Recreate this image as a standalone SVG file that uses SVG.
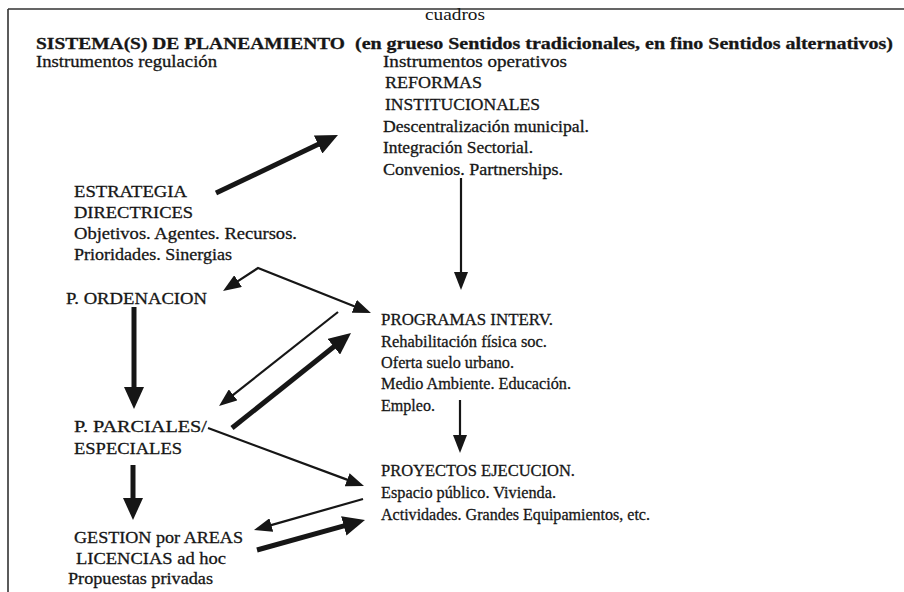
<svg xmlns="http://www.w3.org/2000/svg" width="904" height="592" viewBox="0 0 904 592">
<style>
text{fill:#161616;font-size:17px;font-family:"Liberation Serif","Times New Roman",serif;stroke:#161616;stroke-width:0.3}
.b{font-weight:bold}
.thin{stroke:#161616;stroke-width:2.2;fill:none}
.thick{stroke:#161616;stroke-width:5;fill:none}
</style>
<defs>
<marker id="ht" markerUnits="userSpaceOnUse" markerWidth="18" markerHeight="14" viewBox="0 0 18 14" refX="2" refY="7" orient="auto-start-reverse"><path d="M0,0 L18,7 L0,14 z" fill="#161616"/></marker>
<marker id="hk" markerUnits="userSpaceOnUse" markerWidth="22" markerHeight="20" viewBox="0 0 22 20" refX="2" refY="10" orient="auto"><path d="M0,0 L22,10 L0,20 z" fill="#161616"/></marker>
</defs>
<rect width="904" height="592" fill="#fff"/>
<g id="frame"><path d="M8,9 H904 M8,9 V592" stroke="#333" stroke-width="1.6" fill="none"/></g>
<g id="title">
<text x="425" y="20" textLength="60" lengthAdjust="spacingAndGlyphs" style="stroke-width:0">cuadros</text>
<text x="36" y="49" class="b" font-size="20" textLength="309" lengthAdjust="spacingAndGlyphs">SISTEMA(S) DE PLANEAMIENTO</text>
<text x="355" y="49" class="b" font-size="13" textLength="538" lengthAdjust="spacingAndGlyphs">(en grueso Sentidos tradicionales, en fino Sentidos alternativos)</text>
<text x="36" y="67" textLength="181" lengthAdjust="spacingAndGlyphs">Instrumentos regulación</text>
</g>
<g id="reformas">
<text x="383" y="67" textLength="184" lengthAdjust="spacingAndGlyphs">Instrumentos operativos</text>
<text x="385" y="88" textLength="97" lengthAdjust="spacingAndGlyphs">REFORMAS</text>
<text x="385" y="110" textLength="155" lengthAdjust="spacingAndGlyphs">INSTITUCIONALES</text>
<text x="383" y="132" textLength="206" lengthAdjust="spacingAndGlyphs">Descentralización municipal.</text>
<text x="383" y="153" textLength="150" lengthAdjust="spacingAndGlyphs">Integración Sectorial.</text>
<text x="383" y="175" textLength="180" lengthAdjust="spacingAndGlyphs">Convenios. Partnerships.</text>
</g>
<g id="estrategia">
<text x="74" y="197" textLength="113" lengthAdjust="spacingAndGlyphs">ESTRATEGIA</text>
<text x="74" y="218" textLength="119" lengthAdjust="spacingAndGlyphs">DIRECTRICES</text>
<text x="74" y="239" textLength="223" lengthAdjust="spacingAndGlyphs">Objetivos. Agentes. Recursos.</text>
<text x="74" y="260" textLength="158" lengthAdjust="spacingAndGlyphs">Prioridades. Sinergias</text>
</g>
<g id="ordenacion"><text x="66" y="304" textLength="141" lengthAdjust="spacingAndGlyphs">P. ORDENACION</text></g>
<g id="programas">
<text x="381" y="325" textLength="172" lengthAdjust="spacingAndGlyphs">PROGRAMAS INTERV.</text>
<text x="381" y="347" textLength="166" lengthAdjust="spacingAndGlyphs">Rehabilitación física soc.</text>
<text x="381" y="368" textLength="133" lengthAdjust="spacingAndGlyphs">Oferta suelo urbano.</text>
<text x="381" y="389" textLength="190" lengthAdjust="spacingAndGlyphs">Medio Ambiente. Educación.</text>
<text x="381" y="411" textLength="54" lengthAdjust="spacingAndGlyphs">Empleo.</text>
</g>
<g id="parciales">
<text x="74" y="432" textLength="133" lengthAdjust="spacingAndGlyphs">P. PARCIALES/</text>
<text x="74" y="454" textLength="108" lengthAdjust="spacingAndGlyphs">ESPECIALES</text>
</g>
<g id="proyectos">
<text x="381" y="476" textLength="194" lengthAdjust="spacingAndGlyphs">PROYECTOS EJECUCION.</text>
<text x="381" y="498" textLength="175" lengthAdjust="spacingAndGlyphs">Espacio público. Vivienda.</text>
<text x="381" y="520" textLength="269" lengthAdjust="spacingAndGlyphs">Actividades. Grandes Equipamientos, etc.</text>
</g>
<g id="gestion">
<text x="74" y="543" textLength="169" lengthAdjust="spacingAndGlyphs">GESTION por AREAS</text>
<text x="76" y="564" textLength="150" lengthAdjust="spacingAndGlyphs">LICENCIAS ad hoc</text>
<text x="68" y="584" textLength="145" lengthAdjust="spacingAndGlyphs">Propuestas privadas</text>
</g>
<g id="connectors">
<line class="thick" x1="216" y1="193" x2="319.9" y2="143.6" marker-end="url(#hk)"/>
<line class="thin" x1="461" y1="178" x2="461" y2="274" marker-end="url(#ht)"/>
<path class="thin" d="M236.4,282.2 L258,268 L356.1,307.1" marker-start="url(#ht)" marker-end="url(#ht)"/>
<line class="thin" x1="338" y1="312" x2="231.6" y2="396.1" marker-end="url(#ht)"/>
<line class="thick" x1="232" y1="428" x2="335.4" y2="345.5" marker-end="url(#hk)"/>
<line class="thick" x1="134" y1="307" x2="134" y2="389" marker-end="url(#hk)"/>
<line class="thin" x1="208" y1="428" x2="349" y2="480.4" marker-end="url(#ht)"/>
<line class="thick" x1="133" y1="465" x2="133" y2="500" marker-end="url(#hk)"/>
<line class="thin" x1="363" y1="499" x2="269.4" y2="525.6" marker-end="url(#ht)"/>
<line class="thick" x1="257" y1="550" x2="345.7" y2="525.4" marker-end="url(#hk)"/>
<line class="thin" x1="460" y1="400" x2="460" y2="437" marker-end="url(#ht)"/>
</g>
</svg>
